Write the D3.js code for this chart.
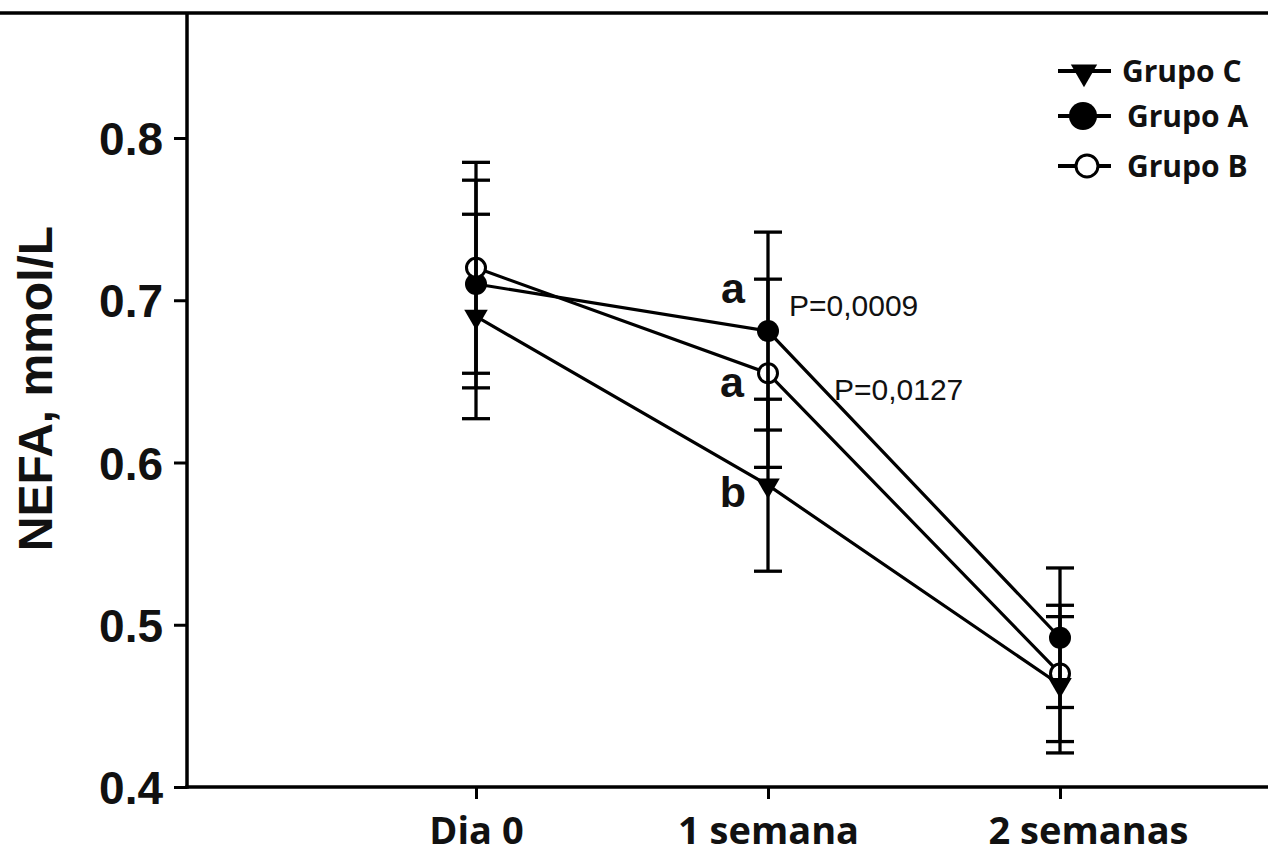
<!DOCTYPE html>
<html>
<head>
<meta charset="utf-8">
<script src="https://cdn.jsdelivr.net/npm/d3@7"></script>
<style>
  html, body { margin: 0; padding: 0; background: #fff; overflow: hidden; }
  svg { display: block; }
</style>
</head>
<body>
<svg id="chart" width="1268" height="864"></svg>
<script>
// ---- data ----
const categories = ["Dia 0", "1 semana", "2 semanas"];
const grupoA = [0.710, 0.681, 0.492];
const errA   = [0.064, 0.061, 0.043];
const grupoB = [0.720, 0.655, 0.470];
const errB   = [0.065, 0.058, 0.042];
const grupoC = [0.690, 0.586, 0.463];
const errC   = [0.063, 0.053, 0.042];
const yTicks = [0.4, 0.5, 0.6, 0.7, 0.8];
const yTitle = "NEFA, mmol/L";
const legendNames = ["Grupo C", "Grupo A", "Grupo B"];
const sigLetters = ["a", "a", "b"];          // A, B, C at "1 semana"
const pLabels = ["P=0,0009", "P=0,0127"];    // A, B at "1 semana"

// ---- layout ----
const W = 1268, H = 864;
const plotLeft = 187, plotTop = 13, plotBottom = 787, plotRight = 1268;
const svg = d3.select("#chart");

const x = d3.scalePoint().domain(categories).range([476, 1060]);
const y = d3.scaleLinear().domain([0.4, 0.8]).range([plotBottom, 138]);

const series = [
  { name: "Grupo A", vals: grupoA, err: errA, kind: "filled" },
  { name: "Grupo B", vals: grupoB, err: errB, kind: "open" },
  { name: "Grupo C", vals: grupoC, err: errC, kind: "tri" }
];

// top frame line
svg.append("line").attr("x1", 0).attr("x2", W).attr("y1", plotTop).attr("y2", plotTop)
  .attr("stroke", "#000").attr("stroke-width", 3.5);

// y axis
const yAxis = svg.append("g").attr("transform", `translate(${plotLeft},0)`)
  .call(d3.axisLeft(y).tickValues(yTicks).tickFormat(d3.format(".1f")).tickSize(13).tickSizeOuter(0).tickPadding(11));
yAxis.select(".domain").remove();
yAxis.selectAll(".tick line").attr("stroke", "#000").attr("stroke-width", 3);
yAxis.selectAll(".tick text").attr("font-family", "Liberation Sans, Arial, sans-serif")
  .attr("font-weight", "bold").attr("font-size", 46).attr("fill", "#111").attr("dy", "0.36em");
svg.append("line").attr("x1", plotLeft).attr("x2", plotLeft).attr("y1", plotTop).attr("y2", plotBottom + 1.75)
  .attr("stroke", "#000").attr("stroke-width", 3.5);

// x axis
const xAxis = svg.append("g").attr("transform", `translate(0,${plotBottom})`)
  .call(d3.axisBottom(x).tickSize(12).tickSizeOuter(0).tickPadding(18));
xAxis.select(".domain").remove();
xAxis.selectAll(".tick line").attr("stroke", "#000").attr("stroke-width", 3);
xAxis.selectAll(".tick text").attr("font-family", "Open Sans, sans-serif")
  .attr("font-weight", "bold").attr("font-size", 38).attr("fill", "#111")
  .attr("dx", (d, i) => i === 2 ? 28 : 0);
svg.append("line").attr("x1", plotLeft - 1.75).attr("x2", plotRight).attr("y1", plotBottom).attr("y2", plotBottom)
  .attr("stroke", "#000").attr("stroke-width", 3.5);

// y title
svg.append("text")
  .attr("transform", `translate(52,${(y(0.8) + y(0.4)) / 2 - 74}) rotate(-90)`)
  .attr("text-anchor", "middle")
  .attr("font-family", "Liberation Sans, Arial, sans-serif")
  .attr("font-weight", "bold").attr("font-size", 48).attr("fill", "#111")
  .text(yTitle);

// lines
const line = d3.line().x((d, i) => x(categories[i])).y(d => y(d));
series.forEach(s => {
  svg.append("path").datum(s.vals).attr("d", line)
    .attr("fill", "none").attr("stroke", "#000").attr("stroke-width", 3.2);
});

// markers
const triPath = d3.symbol(d3.symbolTriangle, 240)();
function drawMarker(g, kind, cx, cy) {
  if (kind === "filled") {
    g.append("circle").attr("cx", cx).attr("cy", cy).attr("r", 11).attr("fill", "#000");
  } else if (kind === "open") {
    g.append("circle").attr("cx", cx).attr("cy", cy).attr("r", 9.5)
      .attr("fill", "#fff").attr("stroke", "#000").attr("stroke-width", 3);
  } else {
    g.append("path").attr("d", triPath)
      .attr("transform", `translate(${cx},${cy}) rotate(180)`).attr("fill", "#000");
  }
}
const mg = svg.append("g");
series.forEach(s => {
  s.vals.forEach((v, i) => drawMarker(mg, s.kind, x(categories[i]), y(v)));
});

// error bars
const eg = svg.append("g").attr("stroke", "#000").attr("stroke-width", 3.3);
series.forEach(s => {
  s.vals.forEach((v, i) => {
    const cx = x(categories[i]);
    const hi = y(v + s.err[i]), lo = y(v - s.err[i]);
    eg.append("line").attr("x1", cx).attr("x2", cx).attr("y1", hi).attr("y2", lo);
    eg.append("line").attr("x1", cx - 14).attr("x2", cx + 14).attr("y1", hi).attr("y2", hi);
    eg.append("line").attr("x1", cx - 14).attr("x2", cx + 14).attr("y1", lo).attr("y2", lo);
  });
});

// annotations at "1 semana"
const ax = x(categories[1]);
const letterStyle = t => t.attr("font-family", "Liberation Sans, Arial, sans-serif")
  .attr("font-weight", "bold").attr("font-size", 43).attr("fill", "#111").attr("text-anchor", "end");
letterStyle(svg.append("text").attr("x", ax - 23).attr("y", y(grupoA[1]) - 28).text(sigLetters[0]));
letterStyle(svg.append("text").attr("x", ax - 24).attr("y", y(grupoB[1]) + 24).text(sigLetters[1]));
letterStyle(svg.append("text").attr("x", ax - 22).attr("y", y(grupoC[1]) + 22).text(sigLetters[2]));
const pStyle = t => t.attr("font-family", "Liberation Sans, Arial, sans-serif")
  .attr("font-size", 30).attr("fill", "#111");
pStyle(svg.append("text").attr("x", ax + 21).attr("y", y(grupoA[1]) - 15).text(pLabels[0]));
pStyle(svg.append("text").attr("x", ax + 66).attr("y", y(grupoB[1]) + 27).text(pLabels[1]));

// legend
const legendKinds = ["tri", "filled", "open"];
const legendY = [71, 116, 166];
const lg = svg.append("g");
legendNames.forEach((name, i) => {
  const cy = legendY[i];
  lg.append("line").attr("x1", 1058).attr("x2", 1111).attr("y1", cy).attr("y2", cy)
    .attr("stroke", "#000").attr("stroke-width", 4);
  if (legendKinds[i] === "tri") {
    lg.append("path").attr("d", d3.symbol(d3.symbolTriangle, 300)())
      .attr("transform", `translate(1084,${cy + 1}) rotate(180)`).attr("fill", "#000");
  } else if (legendKinds[i] === "filled") {
    lg.append("circle").attr("cx", 1083).attr("cy", cy).attr("r", 14).attr("fill", "#000");
  } else {
    lg.append("circle").attr("cx", 1087).attr("cy", cy).attr("r", 11)
      .attr("fill", "#fff").attr("stroke", "#000").attr("stroke-width", 3);
  }
  lg.append("text").attr("x", i === 0 ? 1122 : 1127).attr("y", cy + 11)
    .attr("font-family", "Open Sans, sans-serif").attr("font-weight", "bold")
    .attr("font-size", 30).attr("fill", "#111").text(name);
});
</script>
</body>
</html>
